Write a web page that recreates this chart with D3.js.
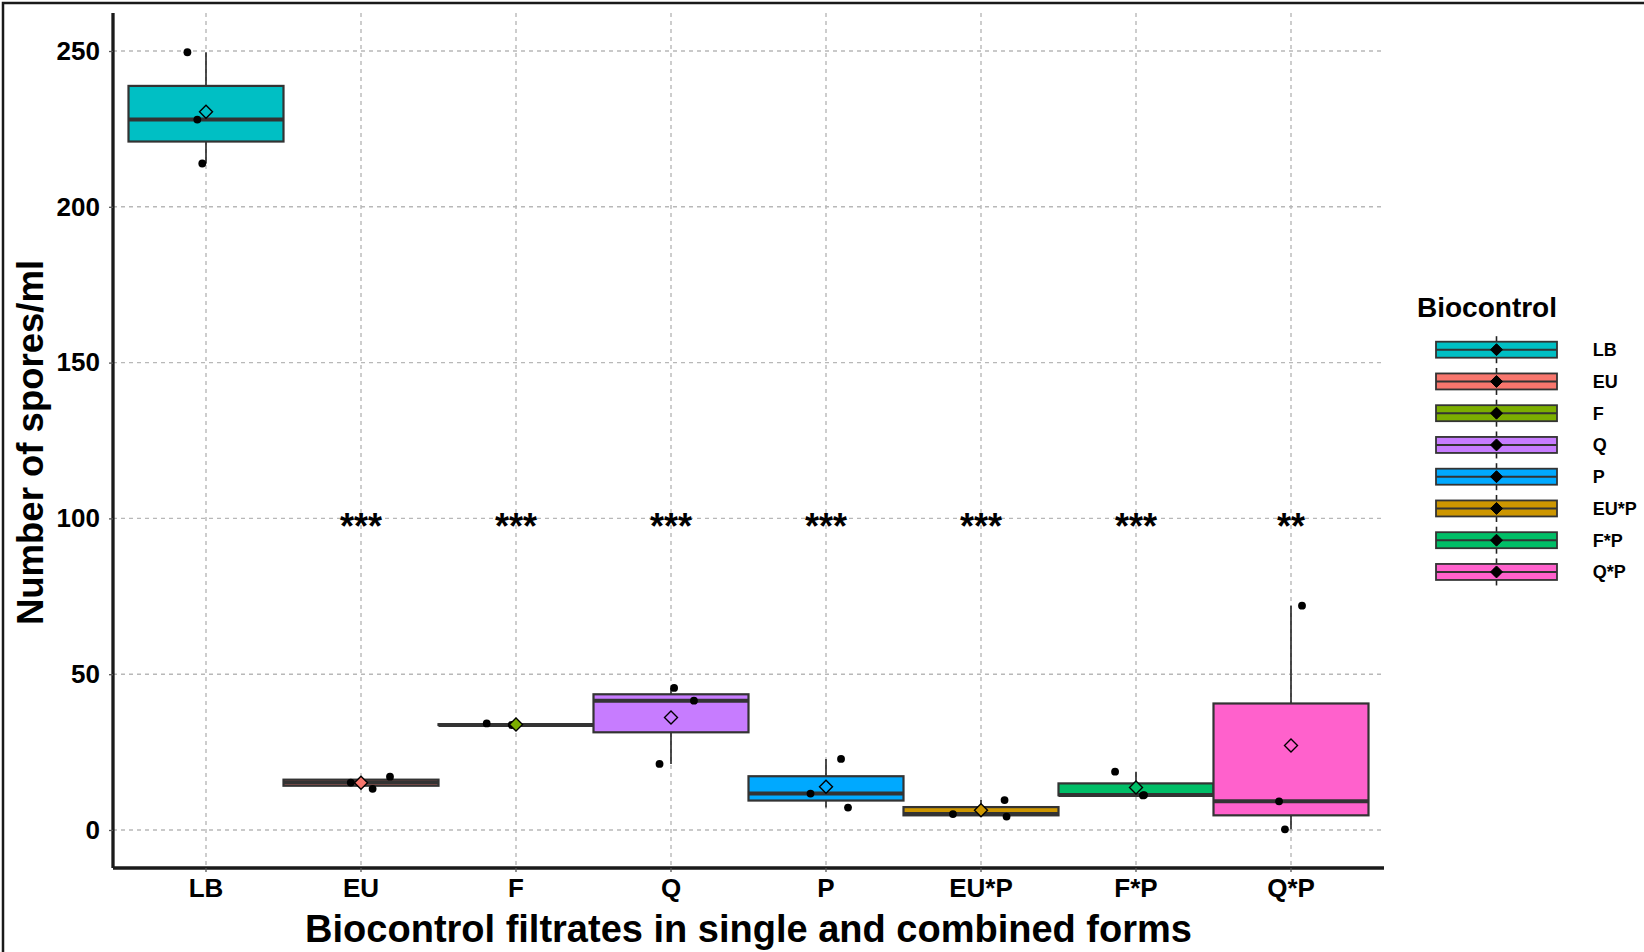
<!DOCTYPE html>
<html>
<head>
<meta charset="utf-8">
<script src="https://cdn.jsdelivr.net/npm/d3@7/dist/d3.min.js"></script>
<style>
  body { margin: 0; background: #ffffff; }
  svg { display: block; }
  text { font-family: "Liberation Sans", Arial, Helvetica, sans-serif; }
</style>
</head>
<body>
<svg id="chart" width="1644" height="952"></svg>
<script>
// ---------------- data ----------------
const categories = ["LB", "EU", "F", "Q", "P", "EU*P", "F*P", "Q*P"];
const groupColors = ["#00BFC4", "#F8766D", "#7CAE00", "#C77CFF", "#00A9FF", "#CD9600", "#00BE67", "#FF61CC"];

// observed replicate values (spores/ml)
const valuesLB  = [249.6, 228.0, 213.9];
const valuesEU  = [15.2, 17.1, 13.2];
const valuesF   = [34.2, 33.7, 33.7];
const valuesQ   = [45.6, 41.5, 21.2];
const valuesP   = [22.8, 11.7, 7.2];
const valuesEUP = [9.6, 5.1, 4.3];
const valuesFP  = [18.7, 11.2, 11.1];
const valuesQP  = [72.0, 9.2, 0.2];

// horizontal jitter of each replicate point (fraction of category width)
const jitterLB  = [-0.12, -0.056, -0.024];
const jitterEU  = [-0.066, 0.187, 0.075];
const jitterF   = [-0.189, -0.028, 0.0];
const jitterQ   = [0.02, 0.148, -0.074];
const jitterP   = [0.097, -0.1, 0.142];
const jitterEUP = [0.152, -0.181, 0.165];
const jitterFP  = [-0.135, 0.052, 0.045];
const jitterQP  = [0.071, -0.077, -0.039];

const significance = ["", "***", "***", "***", "***", "***", "***", "**"];
const significanceLevel = 100;

const yTicks = [0, 50, 100, 150, 200, 250];
const yDomain = [-12.2, 262.2];

const yTitle = "Number of spores/ml";
const xTitle = "Biocontrol filtrates in single and combined forms";
const legendTitle = "Biocontrol";

// ---------------- layout ----------------
const W = 1644, H = 952;
const panel = { left: 113, right: 1384, top: 13, bottom: 868 };

const valueSets = [valuesLB, valuesEU, valuesF, valuesQ, valuesP, valuesEUP, valuesFP, valuesQP];
const jitterSets = [jitterLB, jitterEU, jitterF, jitterQ, jitterP, jitterEUP, jitterFP, jitterQP];

const groups = categories.map((c, i) => {
  const vals = valueSets[i];
  const s = vals.slice().sort(d3.ascending);
  const q1 = d3.quantileSorted(s, 0.25);
  const med = d3.quantileSorted(s, 0.5);
  const q3 = d3.quantileSorted(s, 0.75);
  const iqr = q3 - q1;
  const lo = d3.min(s.filter(v => v >= q1 - 1.5 * iqr));
  const hi = d3.max(s.filter(v => v <= q3 + 1.5 * iqr));
  return {
    name: c, color: groupColors[i], values: vals, jitter: jitterSets[i],
    q1, med, q3, lo, hi, mean: d3.mean(vals), sig: significance[i]
  };
});

const svg = d3.select("#chart");
svg.append("rect").attr("width", W).attr("height", H).attr("fill", "#fff");

// figure frame (top and left edges visible)
svg.append("rect")
  .attr("x", 3).attr("y", 3).attr("width", W + 20).attr("height", H + 20)
  .attr("fill", "none").attr("stroke", "#1a1a1a").attr("stroke-width", 2.5);

const x = d3.scaleBand().domain(categories)
  .range([panel.left, panel.right]).paddingInner(0).paddingOuter(0.1);
const y = d3.scaleLinear().domain(yDomain).range([panel.bottom, panel.top]);
const cx = c => x(c) + x.bandwidth() / 2;

// grid
const grid = svg.append("g");
grid.selectAll("line.h").data(yTicks).join("line")
  .attr("x1", panel.left).attr("x2", panel.right)
  .attr("y1", d => y(d)).attr("y2", d => y(d))
  .attr("stroke", "#b8b8b8").attr("stroke-width", 1.4).attr("stroke-dasharray", "4,4");
grid.selectAll("line.v").data(categories).join("line")
  .attr("x1", d => cx(d)).attr("x2", d => cx(d))
  .attr("y1", panel.top).attr("y2", panel.bottom)
  .attr("stroke", "#b8b8b8").attr("stroke-width", 1.4).attr("stroke-dasharray", "4,4");

// boxes
const boxes = svg.append("g");
const bg = boxes.selectAll("g").data(groups).join("g");
bg.append("line") // upper whisker
  .attr("x1", d => cx(d.name)).attr("x2", d => cx(d.name))
  .attr("y1", d => y(d.q3)).attr("y2", d => y(d.hi))
  .attr("stroke", "#222").attr("stroke-width", 1.6);
bg.append("line") // lower whisker
  .attr("x1", d => cx(d.name)).attr("x2", d => cx(d.name))
  .attr("y1", d => y(d.q1)).attr("y2", d => y(d.lo))
  .attr("stroke", "#222").attr("stroke-width", 1.6);
bg.append("rect")
  .attr("x", d => x(d.name)).attr("width", x.bandwidth())
  .attr("y", d => y(d.q3)).attr("height", d => Math.max(0, y(d.q1) - y(d.q3)))
  .attr("fill", d => d.color).attr("stroke", "#333").attr("stroke-width", 2.2);
bg.append("line") // median
  .attr("x1", d => x(d.name)).attr("x2", d => x(d.name) + x.bandwidth())
  .attr("y1", d => y(d.med)).attr("y2", d => y(d.med))
  .attr("stroke", "#333").attr("stroke-width", 4);

// points
const pts = [];
groups.forEach(g => g.values.forEach((v, j) => pts.push({ g, v, jit: g.jitter[j] })));
svg.append("g").selectAll("circle").data(pts).join("circle")
  .attr("cx", d => cx(d.g.name) + d.jit * x.bandwidth())
  .attr("cy", d => y(d.v))
  .attr("r", 3.9).attr("fill", "#000");

// means (diamond)
const diamond = r => `M0,${-r}L${r},0L0,${r}L${-r},0Z`;
svg.append("g").selectAll("path").data(groups).join("path")
  .attr("transform", d => `translate(${cx(d.name)},${y(d.mean)})`)
  .attr("d", diamond(6.5))
  .attr("fill", d => d.color).attr("stroke", "#000").attr("stroke-width", 1.4);

// significance labels
svg.append("g").selectAll("text").data(groups.filter(g => g.sig)).join("text")
  .attr("x", d => cx(d.name)).attr("y", y(significanceLevel) + 21)
  .attr("text-anchor", "middle").attr("font-size", 36).attr("font-weight", "bold")
  .attr("fill", "#000")
  .text(d => d.sig);

// axes
const yAxis = svg.append("g").attr("transform", `translate(${panel.left},0)`)
  .call(d3.axisLeft(y).tickValues(yTicks).tickSize(4).tickSizeOuter(0).tickPadding(9));
const xAxis = svg.append("g").attr("transform", `translate(0,${panel.bottom})`)
  .call(d3.axisBottom(x).tickSize(4).tickSizeOuter(0).tickPadding(7));
[yAxis, xAxis].forEach(a => {
  a.select(".domain").attr("stroke", "#1a1a1a").attr("stroke-width", 3.3);
  a.selectAll(".tick line").attr("stroke", "#555").attr("stroke-width", 1.3);
  a.selectAll(".tick text").attr("fill", "#000").attr("font-size", 26).attr("font-weight", "bold")
    .style("font-family", '"Liberation Sans", Arial, sans-serif');
});
xAxis.select(".domain").attr("d", `M${panel.left},0H${panel.right}`);
yAxis.select(".domain").attr("d", `M0,${panel.top}V${panel.bottom}`);

// axis titles
svg.append("text")
  .attr("transform", `translate(43,${(panel.top + panel.bottom) / 2 + 2}) rotate(-90)`)
  .attr("text-anchor", "middle").attr("font-size", 36.5).attr("font-weight", "bold")
  .text(yTitle);
svg.append("text")
  .attr("x", (panel.left + panel.right) / 2).attr("y", 942)
  .attr("text-anchor", "middle").attr("font-size", 38).attr("font-weight", "bold")
  .text(xTitle);

// legend
const legend = svg.append("g");
legend.append("text").attr("x", 1417).attr("y", 317)
  .attr("font-size", 28).attr("font-weight", "bold").text(legendTitle);
const keyX0 = 1436, keyX1 = 1557, keyH = 16, keyStep = 31.75, key0 = 349.7;
const kmid = (keyX0 + keyX1) / 2;
const lk = legend.selectAll("g.k").data(groups).join("g")
  .attr("transform", (d, i) => `translate(0,${key0 + i * keyStep})`);
lk.append("line").attr("x1", kmid).attr("x2", kmid).attr("y1", -13.5).attr("y2", 13.5)
  .attr("stroke", "#222").attr("stroke-width", 1.6);
lk.append("rect").attr("x", keyX0).attr("width", keyX1 - keyX0)
  .attr("y", -keyH / 2).attr("height", keyH)
  .attr("fill", d => d.color).attr("stroke", "#333").attr("stroke-width", 1.8);
lk.append("line").attr("x1", keyX0).attr("x2", keyX1).attr("y1", 0).attr("y2", 0)
  .attr("stroke", "#333").attr("stroke-width", 2);
lk.append("path").attr("transform", `translate(${kmid},0)`).attr("d", diamond(6))
  .attr("fill", "#000").attr("stroke", "#000");
lk.append("circle").attr("cx", kmid).attr("r", 3.9).attr("fill", "#000");
lk.append("text").attr("x", 1592.7).attr("dy", "0.36em")
  .attr("font-size", 18).attr("font-weight", "bold").text(d => d.name);
</script>
</body>
</html>
